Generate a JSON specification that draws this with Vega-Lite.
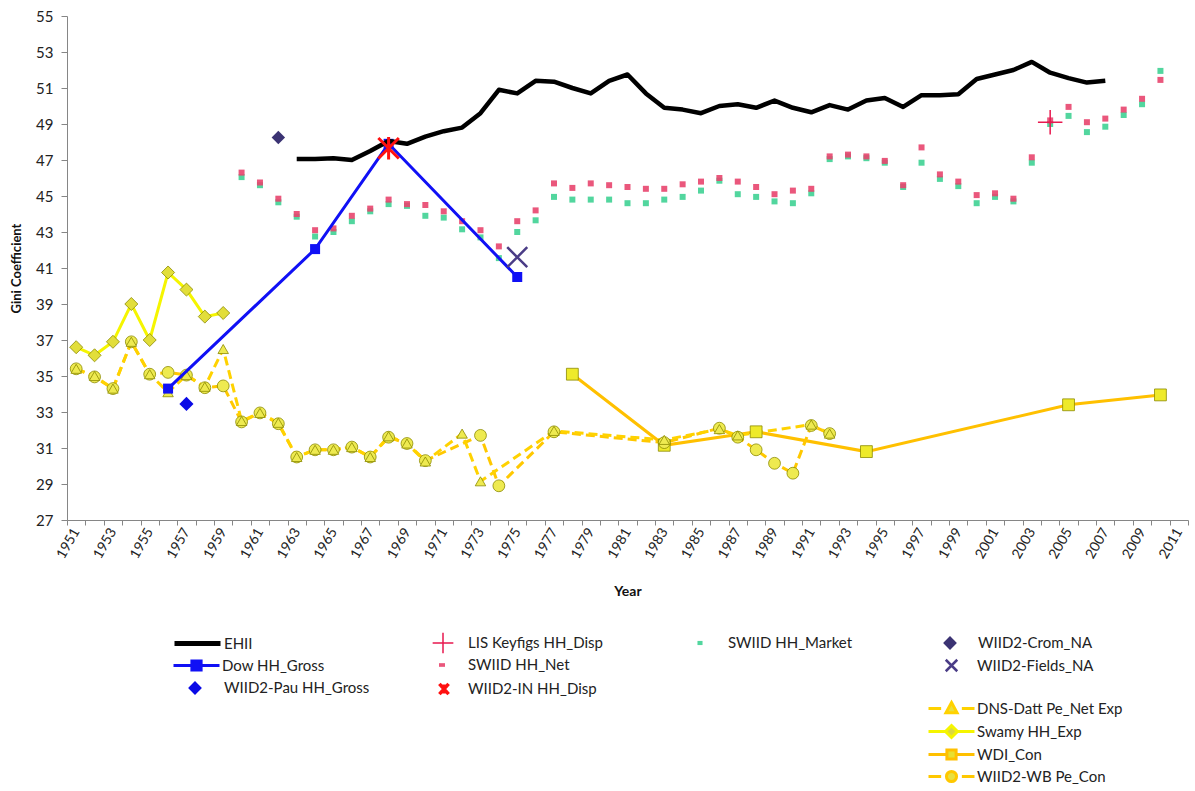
{
  "$schema": "https://vega.github.io/schema/vega-lite/v6.json",
  "width": 1121,
  "height": 504,
  "autosize": {"type": "none"},
  "padding": {"left": 67, "top": 16, "right": 7, "bottom": 271},
  "background": "white",
  "config": {
    "view": {"stroke": null},
    "font": "Lato",
    "axis": {"labelFont": "Lato", "titleFont": "Lato", "domainColor": "#868686", "tickColor": "#868686", "labelColor": "#222222", "titleColor": "#111111", "grid": false},
    "legend": {"orient": "none", "padding": 0, "labelFont": "Lato", "labelFontSize": 15, "labelColor": "#222222", "symbolSize": 2116, "labelLimit": 0, "title": null}
  },
  "data": {"values": [
    {"series": "EHII", "year": 1963, "gini": 47.05}, {"series": "EHII", "year": 1964, "gini": 47.05}, {"series": "EHII", "year": 1965, "gini": 47.1}, {"series": "EHII", "year": 1966, "gini": 47.0}, {"series": "EHII", "year": 1967, "gini": 47.5}, {"series": "EHII", "year": 1968, "gini": 48.05}, {"series": "EHII", "year": 1969, "gini": 47.9}, {"series": "EHII", "year": 1970, "gini": 48.3}, {"series": "EHII", "year": 1971, "gini": 48.6}, {"series": "EHII", "year": 1972, "gini": 48.8}, {"series": "EHII", "year": 1973, "gini": 49.6}, {"series": "EHII", "year": 1974, "gini": 50.9}, {"series": "EHII", "year": 1975, "gini": 50.7}, {"series": "EHII", "year": 1976, "gini": 51.4}, {"series": "EHII", "year": 1977, "gini": 51.35}, {"series": "EHII", "year": 1978, "gini": 51.0}, {"series": "EHII", "year": 1979, "gini": 50.7}, {"series": "EHII", "year": 1980, "gini": 51.4}, {"series": "EHII", "year": 1981, "gini": 51.75}, {"series": "EHII", "year": 1982, "gini": 50.7}, {"series": "EHII", "year": 1983, "gini": 49.9}, {"series": "EHII", "year": 1984, "gini": 49.8}, {"series": "EHII", "year": 1985, "gini": 49.6}, {"series": "EHII", "year": 1986, "gini": 50.0}, {"series": "EHII", "year": 1987, "gini": 50.1}, {"series": "EHII", "year": 1988, "gini": 49.9}, {"series": "EHII", "year": 1989, "gini": 50.3}, {"series": "EHII", "year": 1990, "gini": 49.9}, {"series": "EHII", "year": 1991, "gini": 49.65}, {"series": "EHII", "year": 1992, "gini": 50.05}, {"series": "EHII", "year": 1993, "gini": 49.8}, {"series": "EHII", "year": 1994, "gini": 50.3}, {"series": "EHII", "year": 1995, "gini": 50.45}, {"series": "EHII", "year": 1996, "gini": 49.95}, {"series": "EHII", "year": 1997, "gini": 50.6}, {"series": "EHII", "year": 1998, "gini": 50.6}, {"series": "EHII", "year": 1999, "gini": 50.65}, {"series": "EHII", "year": 2000, "gini": 51.5}, {"series": "EHII", "year": 2001, "gini": 51.75}, {"series": "EHII", "year": 2002, "gini": 52.0}, {"series": "EHII", "year": 2003, "gini": 52.45}, {"series": "EHII", "year": 2004, "gini": 51.85}, {"series": "EHII", "year": 2005, "gini": 51.55}, {"series": "EHII", "year": 2006, "gini": 51.3}, {"series": "EHII", "year": 2007, "gini": 51.4},
    {"series": "Dow HH_Gross", "year": 1956, "gini": 34.3}, {"series": "Dow HH_Gross", "year": 1964, "gini": 42.05}, {"series": "Dow HH_Gross", "year": 1968, "gini": 47.9}, {"series": "Dow HH_Gross", "year": 1975, "gini": 40.5},
    {"series": "WIID2-Pau HH_Gross", "year": 1957, "gini": 33.45},
    {"series": "WIID2-Crom_NA", "year": 1962, "gini": 48.25},
    {"series": "WIID2-Fields_NA", "year": 1975, "gini": 41.6},
    {"series": "WIID2-IN HH_Disp", "year": 1968, "gini": 47.65},
    {"series": "LIS Keyfigs HH_Disp", "year": 2004, "gini": 49.1},
    {"series": "SWIID HH_Net", "year": 1960, "gini": 46.3}, {"series": "SWIID HH_Net", "year": 1961, "gini": 45.75}, {"series": "SWIID HH_Net", "year": 1962, "gini": 44.85}, {"series": "SWIID HH_Net", "year": 1963, "gini": 44.0}, {"series": "SWIID HH_Net", "year": 1964, "gini": 43.1}, {"series": "SWIID HH_Net", "year": 1965, "gini": 43.2}, {"series": "SWIID HH_Net", "year": 1966, "gini": 43.9}, {"series": "SWIID HH_Net", "year": 1967, "gini": 44.3}, {"series": "SWIID HH_Net", "year": 1968, "gini": 44.8}, {"series": "SWIID HH_Net", "year": 1969, "gini": 44.55}, {"series": "SWIID HH_Net", "year": 1970, "gini": 44.5}, {"series": "SWIID HH_Net", "year": 1971, "gini": 44.15}, {"series": "SWIID HH_Net", "year": 1972, "gini": 43.6}, {"series": "SWIID HH_Net", "year": 1973, "gini": 43.1}, {"series": "SWIID HH_Net", "year": 1974, "gini": 42.2}, {"series": "SWIID HH_Net", "year": 1975, "gini": 43.6}, {"series": "SWIID HH_Net", "year": 1976, "gini": 44.2}, {"series": "SWIID HH_Net", "year": 1977, "gini": 45.7}, {"series": "SWIID HH_Net", "year": 1978, "gini": 45.45}, {"series": "SWIID HH_Net", "year": 1979, "gini": 45.7}, {"series": "SWIID HH_Net", "year": 1980, "gini": 45.6}, {"series": "SWIID HH_Net", "year": 1981, "gini": 45.5}, {"series": "SWIID HH_Net", "year": 1982, "gini": 45.4}, {"series": "SWIID HH_Net", "year": 1983, "gini": 45.4}, {"series": "SWIID HH_Net", "year": 1984, "gini": 45.65}, {"series": "SWIID HH_Net", "year": 1985, "gini": 45.8}, {"series": "SWIID HH_Net", "year": 1986, "gini": 46.0}, {"series": "SWIID HH_Net", "year": 1987, "gini": 45.8}, {"series": "SWIID HH_Net", "year": 1988, "gini": 45.5}, {"series": "SWIID HH_Net", "year": 1989, "gini": 45.1}, {"series": "SWIID HH_Net", "year": 1990, "gini": 45.3}, {"series": "SWIID HH_Net", "year": 1991, "gini": 45.4}, {"series": "SWIID HH_Net", "year": 1992, "gini": 47.2}, {"series": "SWIID HH_Net", "year": 1993, "gini": 47.3}, {"series": "SWIID HH_Net", "year": 1994, "gini": 47.2}, {"series": "SWIID HH_Net", "year": 1995, "gini": 46.95}, {"series": "SWIID HH_Net", "year": 1996, "gini": 45.6}, {"series": "SWIID HH_Net", "year": 1997, "gini": 47.7}, {"series": "SWIID HH_Net", "year": 1998, "gini": 46.2}, {"series": "SWIID HH_Net", "year": 1999, "gini": 45.8}, {"series": "SWIID HH_Net", "year": 2000, "gini": 45.05}, {"series": "SWIID HH_Net", "year": 2001, "gini": 45.15}, {"series": "SWIID HH_Net", "year": 2002, "gini": 44.85}, {"series": "SWIID HH_Net", "year": 2003, "gini": 47.15}, {"series": "SWIID HH_Net", "year": 2004, "gini": 49.2}, {"series": "SWIID HH_Net", "year": 2005, "gini": 49.95}, {"series": "SWIID HH_Net", "year": 2006, "gini": 49.1}, {"series": "SWIID HH_Net", "year": 2007, "gini": 49.3}, {"series": "SWIID HH_Net", "year": 2008, "gini": 49.8}, {"series": "SWIID HH_Net", "year": 2009, "gini": 50.4}, {"series": "SWIID HH_Net", "year": 2010, "gini": 51.45},
    {"series": "SWIID HH_Market", "year": 1960, "gini": 46.05}, {"series": "SWIID HH_Market", "year": 1961, "gini": 45.6}, {"series": "SWIID HH_Market", "year": 1962, "gini": 44.65}, {"series": "SWIID HH_Market", "year": 1963, "gini": 43.85}, {"series": "SWIID HH_Market", "year": 1964, "gini": 42.75}, {"series": "SWIID HH_Market", "year": 1965, "gini": 43.0}, {"series": "SWIID HH_Market", "year": 1966, "gini": 43.6}, {"series": "SWIID HH_Market", "year": 1967, "gini": 44.15}, {"series": "SWIID HH_Market", "year": 1968, "gini": 44.55}, {"series": "SWIID HH_Market", "year": 1969, "gini": 44.45}, {"series": "SWIID HH_Market", "year": 1970, "gini": 43.9}, {"series": "SWIID HH_Market", "year": 1971, "gini": 43.8}, {"series": "SWIID HH_Market", "year": 1972, "gini": 43.15}, {"series": "SWIID HH_Market", "year": 1973, "gini": 42.7}, {"series": "SWIID HH_Market", "year": 1974, "gini": 41.55}, {"series": "SWIID HH_Market", "year": 1975, "gini": 43.0}, {"series": "SWIID HH_Market", "year": 1976, "gini": 43.65}, {"series": "SWIID HH_Market", "year": 1977, "gini": 44.95}, {"series": "SWIID HH_Market", "year": 1978, "gini": 44.8}, {"series": "SWIID HH_Market", "year": 1979, "gini": 44.8}, {"series": "SWIID HH_Market", "year": 1980, "gini": 44.8}, {"series": "SWIID HH_Market", "year": 1981, "gini": 44.6}, {"series": "SWIID HH_Market", "year": 1982, "gini": 44.6}, {"series": "SWIID HH_Market", "year": 1983, "gini": 44.8}, {"series": "SWIID HH_Market", "year": 1984, "gini": 44.95}, {"series": "SWIID HH_Market", "year": 1985, "gini": 45.3}, {"series": "SWIID HH_Market", "year": 1986, "gini": 45.85}, {"series": "SWIID HH_Market", "year": 1987, "gini": 45.1}, {"series": "SWIID HH_Market", "year": 1988, "gini": 44.95}, {"series": "SWIID HH_Market", "year": 1989, "gini": 44.7}, {"series": "SWIID HH_Market", "year": 1990, "gini": 44.6}, {"series": "SWIID HH_Market", "year": 1991, "gini": 45.15}, {"series": "SWIID HH_Market", "year": 1992, "gini": 47.05}, {"series": "SWIID HH_Market", "year": 1993, "gini": 47.2}, {"series": "SWIID HH_Market", "year": 1994, "gini": 47.1}, {"series": "SWIID HH_Market", "year": 1995, "gini": 46.85}, {"series": "SWIID HH_Market", "year": 1996, "gini": 45.5}, {"series": "SWIID HH_Market", "year": 1997, "gini": 46.85}, {"series": "SWIID HH_Market", "year": 1998, "gini": 45.95}, {"series": "SWIID HH_Market", "year": 1999, "gini": 45.55}, {"series": "SWIID HH_Market", "year": 2000, "gini": 44.6}, {"series": "SWIID HH_Market", "year": 2001, "gini": 44.95}, {"series": "SWIID HH_Market", "year": 2002, "gini": 44.7}, {"series": "SWIID HH_Market", "year": 2003, "gini": 46.85}, {"series": "SWIID HH_Market", "year": 2004, "gini": 49.0}, {"series": "SWIID HH_Market", "year": 2005, "gini": 49.45}, {"series": "SWIID HH_Market", "year": 2006, "gini": 48.55}, {"series": "SWIID HH_Market", "year": 2007, "gini": 48.85}, {"series": "SWIID HH_Market", "year": 2008, "gini": 49.5}, {"series": "SWIID HH_Market", "year": 2009, "gini": 50.1}, {"series": "SWIID HH_Market", "year": 2010, "gini": 51.95},
    {"series": "Swamy HH_Exp", "year": 1951, "gini": 36.6}, {"series": "Swamy HH_Exp", "year": 1952, "gini": 36.15}, {"series": "Swamy HH_Exp", "year": 1953, "gini": 36.9}, {"series": "Swamy HH_Exp", "year": 1954, "gini": 39.0}, {"series": "Swamy HH_Exp", "year": 1955, "gini": 37.0}, {"series": "Swamy HH_Exp", "year": 1956, "gini": 40.75}, {"series": "Swamy HH_Exp", "year": 1957, "gini": 39.8}, {"series": "Swamy HH_Exp", "year": 1958, "gini": 38.3}, {"series": "Swamy HH_Exp", "year": 1959, "gini": 38.5},
    {"series": "DNS-Datt Pe_Net Exp", "year": 1951, "gini": 35.4}, {"series": "DNS-Datt Pe_Net Exp", "year": 1952, "gini": 35.0}, {"series": "DNS-Datt Pe_Net Exp", "year": 1953, "gini": 34.3}, {"series": "DNS-Datt Pe_Net Exp", "year": 1954, "gini": 36.9}, {"series": "DNS-Datt Pe_Net Exp", "year": 1955, "gini": 35.1}, {"series": "DNS-Datt Pe_Net Exp", "year": 1956, "gini": 34.1}, {"series": "DNS-Datt Pe_Net Exp", "year": 1957, "gini": 35.05}, {"series": "DNS-Datt Pe_Net Exp", "year": 1958, "gini": 34.4}, {"series": "DNS-Datt Pe_Net Exp", "year": 1959, "gini": 36.5}, {"series": "DNS-Datt Pe_Net Exp", "year": 1960, "gini": 32.5}, {"series": "DNS-Datt Pe_Net Exp", "year": 1961, "gini": 32.95}, {"series": "DNS-Datt Pe_Net Exp", "year": 1962, "gini": 32.4}, {"series": "DNS-Datt Pe_Net Exp", "year": 1963, "gini": 30.5}, {"series": "DNS-Datt Pe_Net Exp", "year": 1964, "gini": 30.9}, {"series": "DNS-Datt Pe_Net Exp", "year": 1965, "gini": 30.9}, {"series": "DNS-Datt Pe_Net Exp", "year": 1966, "gini": 31.05}, {"series": "DNS-Datt Pe_Net Exp", "year": 1967, "gini": 30.5}, {"series": "DNS-Datt Pe_Net Exp", "year": 1968, "gini": 31.65}, {"series": "DNS-Datt Pe_Net Exp", "year": 1969, "gini": 31.25}, {"series": "DNS-Datt Pe_Net Exp", "year": 1970, "gini": 30.25}, {"series": "DNS-Datt Pe_Net Exp", "year": 1972, "gini": 31.8}, {"series": "DNS-Datt Pe_Net Exp", "year": 1973, "gini": 29.15}, {"series": "DNS-Datt Pe_Net Exp", "year": 1977, "gini": 31.95}, {"series": "DNS-Datt Pe_Net Exp", "year": 1983, "gini": 31.45}, {"series": "DNS-Datt Pe_Net Exp", "year": 1986, "gini": 32.05}, {"series": "DNS-Datt Pe_Net Exp", "year": 1987, "gini": 31.7}, {"series": "DNS-Datt Pe_Net Exp", "year": 1991, "gini": 32.3}, {"series": "DNS-Datt Pe_Net Exp", "year": 1992, "gini": 31.8},
    {"series": "WIID2-WB Pe_Con", "year": 1951, "gini": 35.4}, {"series": "WIID2-WB Pe_Con", "year": 1952, "gini": 34.95}, {"series": "WIID2-WB Pe_Con", "year": 1953, "gini": 34.3}, {"series": "WIID2-WB Pe_Con", "year": 1954, "gini": 36.9}, {"series": "WIID2-WB Pe_Con", "year": 1955, "gini": 35.1}, {"series": "WIID2-WB Pe_Con", "year": 1956, "gini": 35.2}, {"series": "WIID2-WB Pe_Con", "year": 1957, "gini": 35.05}, {"series": "WIID2-WB Pe_Con", "year": 1958, "gini": 34.35}, {"series": "WIID2-WB Pe_Con", "year": 1959, "gini": 34.45}, {"series": "WIID2-WB Pe_Con", "year": 1960, "gini": 32.45}, {"series": "WIID2-WB Pe_Con", "year": 1961, "gini": 32.95}, {"series": "WIID2-WB Pe_Con", "year": 1962, "gini": 32.35}, {"series": "WIID2-WB Pe_Con", "year": 1963, "gini": 30.5}, {"series": "WIID2-WB Pe_Con", "year": 1964, "gini": 30.9}, {"series": "WIID2-WB Pe_Con", "year": 1965, "gini": 30.9}, {"series": "WIID2-WB Pe_Con", "year": 1966, "gini": 31.05}, {"series": "WIID2-WB Pe_Con", "year": 1967, "gini": 30.5}, {"series": "WIID2-WB Pe_Con", "year": 1968, "gini": 31.6}, {"series": "WIID2-WB Pe_Con", "year": 1969, "gini": 31.25}, {"series": "WIID2-WB Pe_Con", "year": 1970, "gini": 30.3}, {"series": "WIID2-WB Pe_Con", "year": 1973, "gini": 31.7}, {"series": "WIID2-WB Pe_Con", "year": 1974, "gini": 28.9}, {"series": "WIID2-WB Pe_Con", "year": 1977, "gini": 31.9}, {"series": "WIID2-WB Pe_Con", "year": 1983, "gini": 31.3}, {"series": "WIID2-WB Pe_Con", "year": 1986, "gini": 32.1}, {"series": "WIID2-WB Pe_Con", "year": 1987, "gini": 31.6}, {"series": "WIID2-WB Pe_Con", "year": 1988, "gini": 30.9}, {"series": "WIID2-WB Pe_Con", "year": 1989, "gini": 30.15}, {"series": "WIID2-WB Pe_Con", "year": 1990, "gini": 29.6}, {"series": "WIID2-WB Pe_Con", "year": 1991, "gini": 32.25}, {"series": "WIID2-WB Pe_Con", "year": 1992, "gini": 31.8},
    {"series": "WDI_Con", "year": 1978, "gini": 35.1}, {"series": "WDI_Con", "year": 1983, "gini": 31.15}, {"series": "WDI_Con", "year": 1988, "gini": 31.9}, {"series": "WDI_Con", "year": 1994, "gini": 30.8}, {"series": "WDI_Con", "year": 2005, "gini": 33.4}, {"series": "WDI_Con", "year": 2010, "gini": 33.95}
  ]},
  "encoding": {
    "x": {"field": "year", "type": "quantitative", "title": "Year",
      "scale": {"domain": [1950.5, 2011.5], "nice": false, "zero": false},
      "axis": {"values": [1950.5,1951.5,1952.5,1953.5,1954.5,1955.5,1956.5,1957.5,1958.5,1959.5,1960.5,1961.5,1962.5,1963.5,1964.5,1965.5,1966.5,1967.5,1968.5,1969.5,1970.5,1971.5,1972.5,1973.5,1974.5,1975.5,1976.5,1977.5,1978.5,1979.5,1980.5,1981.5,1982.5,1983.5,1984.5,1985.5,1986.5,1987.5,1988.5,1989.5,1990.5,1991.5,1992.5,1993.5,1994.5,1995.5,1996.5,1997.5,1998.5,1999.5,2000.5,2001.5,2002.5,2003.5,2004.5,2005.5,2006.5,2007.5,2008.5,2009.5,2010.5,2011.5],
        "labelExpr": "((datum.value + 0.5) % 2 == 1) ? format(datum.value + 0.5, 'd') : ''",
        "labelOffset": 9.2, "labelAngle": -60, "labelAlign": "right", "labelBaseline": "middle",
        "labelFlush": false, "labelOverlap": false, "labelFontSize": 14, "labelPadding": 4,
        "tickSize": 5, "titleFontSize": 14, "titleFontWeight": "bold", "titlePadding": 24}},
    "y": {"field": "gini", "type": "quantitative", "title": "Gini Coefficient",
      "scale": {"domain": [27, 55], "nice": false, "zero": false},
      "axis": {"values": [27,29,31,33,35,37,39,41,43,45,47,49,51,53,55], "labelFontSize": 15, "tickSize": 6, "labelPadding": 8, "titleFontSize": 13, "titleFontWeight": "bold", "titlePadding": 12}}
  },
  "layer": [
    {"transform": [{"filter": "datum.series === 'WDI_Con'"}],
     "mark": {"type": "line", "strokeWidth": 3},
     "encoding": {"color": {"field": "series", "type": "nominal", "scale": {"range": ["#ffc000"]},
       "legend": {"legendX": 860, "legendY": 714, "labelOffset": 1, "symbolType": "M-1,0H-0.22M0.22,0H1M-0.2,-0.2H0.2V0.2H-0.2Z", "symbolStrokeWidth": 3, "symbolFillColor": "#e8e030", "symbolStrokeColor": "#ffc000"}}}},
    {"transform": [{"filter": "datum.series === 'WIID2-WB Pe_Con'"}],
     "mark": {"type": "line", "strokeWidth": 3, "strokeDash": [9, 5]},
     "encoding": {"color": {"field": "series", "type": "nominal", "scale": {"range": ["#ffc800"]},
       "legend": {"legendX": 860, "legendY": 736, "labelOffset": 1, "symbolType": "M-1,0H-0.45M0.45,0H1M0.22,0A0.22,0.22 0 1,1 -0.22,0A0.22,0.22 0 1,1 0.22,0Z", "symbolStrokeWidth": 3, "symbolFillColor": "#e8e040", "symbolStrokeColor": "#ffc800"}}}},
    {"transform": [{"filter": "datum.series === 'DNS-Datt Pe_Net Exp'"}],
     "mark": {"type": "line", "strokeWidth": 3, "strokeDash": [9, 5]},
     "encoding": {"color": {"field": "series", "type": "nominal", "scale": {"range": ["#ffd200"]},
       "legend": {"legendX": 860, "legendY": 668, "labelOffset": 1, "symbolType": "M-1,0H-0.45M0.45,0H1M0,-0.26L0.24,0.18H-0.24Z", "symbolStrokeWidth": 3, "symbolFillColor": "#e8e040", "symbolStrokeColor": "#ffd200"}}}},
    {"transform": [{"filter": "datum.series === 'Swamy HH_Exp'"}],
     "mark": {"type": "line", "strokeWidth": 3},
     "encoding": {"color": {"field": "series", "type": "nominal", "scale": {"range": ["#f5f500"]},
       "legend": {"legendX": 860, "legendY": 691, "labelOffset": 1, "symbolType": "M-1,0H-0.26M0.26,0H1M0,-0.26L0.26,0L0,0.26L-0.26,0Z", "symbolStrokeWidth": 3, "symbolFillColor": "#dcd840", "symbolStrokeColor": "#f5f500"}}}},
    {"transform": [{"filter": "datum.series === 'WDI_Con'"}],
     "mark": {"type": "point", "shape": "square", "filled": true, "fill": "#eeea2a", "stroke": "#8c8a00", "strokeWidth": 0.8, "size": 140, "opacity": 1}},
    {"transform": [{"filter": "datum.series === 'WIID2-WB Pe_Con'"}],
     "mark": {"type": "point", "shape": "circle", "filled": true, "fill": "#eeea50", "stroke": "#8c8a00", "strokeWidth": 0.8, "size": 140, "opacity": 1}},
    {"transform": [{"filter": "datum.series === 'DNS-Datt Pe_Net Exp'"}],
     "mark": {"type": "point", "shape": "triangle-up", "filled": true, "fill": "#eeea50", "stroke": "#8c8a00", "strokeWidth": 0.8, "size": 110, "opacity": 1}},
    {"transform": [{"filter": "datum.series === 'Swamy HH_Exp'"}],
     "mark": {"type": "point", "shape": "diamond", "filled": true, "fill": "#e2de3a", "stroke": "#8c8a00", "strokeWidth": 0.8, "size": 170, "opacity": 1}},
    {"transform": [{"filter": "datum.series === 'SWIID HH_Market'"}],
     "mark": {"type": "point", "shape": "square", "filled": true, "size": 36, "opacity": 0.9},
     "encoding": {"color": {"field": "series", "type": "nominal", "scale": {"range": ["#3fd193"]},
       "legend": {"legendX": 610, "legendY": 604, "labelOffset": 5, "symbolType": "M-0.11,-0.09H0.11V0.09H-0.11Z", "symbolFillColor": "#a8c8b8", "symbolStrokeColor": "#a8c8b8", "symbolStrokeWidth": 0}}}},
    {"transform": [{"filter": "datum.series === 'SWIID HH_Net'"}],
     "mark": {"type": "point", "shape": "square", "filled": true, "size": 36, "opacity": 0.9},
     "encoding": {"color": {"field": "series", "type": "nominal", "scale": {"range": ["#e8456e"]},
       "legend": {"legendX": 352, "legendY": 626, "labelOffset": 3, "symbolType": "M-0.13,-0.08H0.13V0.08H-0.13Z", "symbolFillColor": "#e87d98", "symbolStrokeColor": "#e87d98", "symbolStrokeWidth": 0}}}},
    {"transform": [{"filter": "datum.series === 'Dow HH_Gross'"}],
     "mark": {"type": "line", "strokeWidth": 3},
     "encoding": {"color": {"field": "series", "type": "nominal", "scale": {"range": ["#1010f5"]},
       "legend": {"legendX": 105, "legendY": 625, "labelOffset": 1, "symbolType": "M-1,0H1M-0.2,-0.2H0.2V0.2H-0.2Z", "symbolStrokeWidth": 3, "symbolFillColor": "#1010f5", "symbolStrokeColor": "#1010f5"}}}},
    {"transform": [{"filter": "datum.series === 'Dow HH_Gross'"}],
     "mark": {"type": "point", "shape": "square", "filled": true, "color": "#1010f5", "size": 100, "opacity": 1}},
    {"transform": [{"filter": "datum.series === 'EHII'"}],
     "mark": {"type": "line", "strokeWidth": 4.5, "strokeJoin": "round"},
     "encoding": {"color": {"field": "series", "type": "nominal", "scale": {"range": ["#000000"]},
       "legend": {"legendX": 105, "legendY": 602, "labelOffset": 1, "symbolType": "M-1,0H1", "symbolStrokeWidth": 5, "symbolStrokeColor": "#000000"}}}},
    {"transform": [{"filter": "datum.series === 'WIID2-Pau HH_Gross'"}],
     "mark": {"type": "point", "shape": "diamond", "filled": true, "size": 200, "opacity": 1},
     "encoding": {"color": {"field": "series", "type": "nominal", "scale": {"range": ["#0a0ae6"]},
       "legend": {"legendX": 105, "legendY": 649, "labelOffset": 6, "symbolType": "M0,-0.3L0.3,0L0,0.3L-0.3,0Z", "symbolFillColor": "#0a0ae6", "symbolStrokeColor": "#0a0ae6", "symbolStrokeWidth": 0}}}},
    {"transform": [{"filter": "datum.series === 'WIID2-Crom_NA'"}],
     "mark": {"type": "point", "shape": "diamond", "filled": true, "size": 180, "opacity": 1},
     "encoding": {"color": {"field": "series", "type": "nominal", "scale": {"range": ["#3b3373"]},
       "legend": {"legendX": 860, "legendY": 604, "labelOffset": 5, "symbolType": "M0,-0.3L0.3,0L0,0.3L-0.3,0Z", "symbolFillColor": "#3b3373", "symbolStrokeColor": "#3b3373", "symbolStrokeWidth": 0}}}},
    {"transform": [{"filter": "datum.series === 'WIID2-Fields_NA'"}],
     "mark": {"type": "point", "shape": "M-1,-1L1,1M-1,1L1,-1", "filled": false, "size": 400, "strokeWidth": 2.5, "opacity": 1},
     "encoding": {"color": {"field": "series", "type": "nominal", "scale": {"range": ["#4a3c86"]},
       "legend": {"legendX": 860, "legendY": 625, "labelOffset": 1, "symbolType": "M-0.25,-0.25L0.25,0.25M-0.25,0.25L0.25,-0.25", "symbolStrokeWidth": 2.5, "symbolStrokeColor": "#3b3373", "symbolFillColor": "transparent"}}}},
    {"transform": [{"filter": "datum.series === 'WIID2-IN HH_Disp'"}],
     "mark": {"type": "point", "shape": "M-1,-1L1,1M-1,1L1,-1M0,-1.1V1.1", "filled": false, "size": 420, "strokeWidth": 3, "opacity": 1},
     "encoding": {"color": {"field": "series", "type": "nominal", "scale": {"range": ["#ff1010"]},
       "legend": {"legendX": 352, "legendY": 648, "labelOffset": -1, "symbolType": "M-0.2,-0.22L0.2,0.22M-0.2,0.22L0.2,-0.22M0,-0.2V0.2", "symbolStrokeWidth": 3.5, "symbolStrokeColor": "#ff1010", "symbolFillColor": "transparent"}}}},
    {"transform": [{"filter": "datum.series === 'LIS Keyfigs HH_Disp'"}],
     "mark": {"type": "point", "shape": "M-1,0H1M0,-1V1", "filled": false, "size": 600, "strokeWidth": 1.5, "opacity": 1},
     "encoding": {"color": {"field": "series", "type": "nominal", "scale": {"range": ["#e8194f"]},
       "legend": {"legendX": 352, "legendY": 603, "labelOffset": 1, "symbolType": "M-0.45,0H0.45M0,-0.45V0.45", "symbolStrokeWidth": 1.5, "symbolStrokeColor": "#e8194f", "symbolFillColor": "transparent"}}}}
  ],
  "resolve": {"scale": {"color": "independent"}}
}
